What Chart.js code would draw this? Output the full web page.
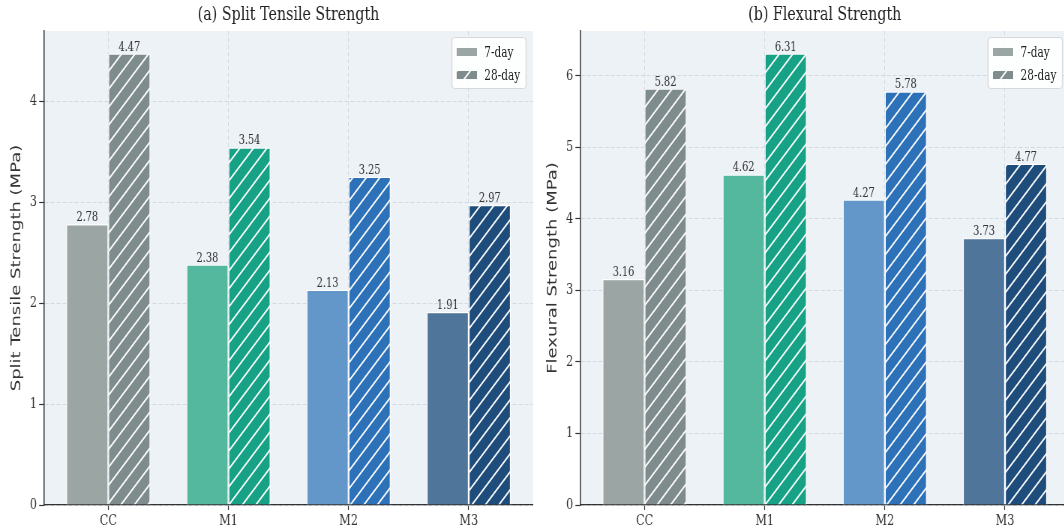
<!DOCTYPE html>
<html lang="en">
<head>
<meta charset="UTF-8" />
<title>Split Tensile and Flexural Strength</title>
<script src="https://cdn.jsdelivr.net/npm/chart.js"></script>
<style>
  body { margin: 0; background: #fff; overflow: hidden; width: 1064px; height: 532px; }
  /* figure is laid out wide, then squeezed horizontally */
  .stage { position: absolute; left: 0; top: 0; width: 1419px; height: 532px; transform: scaleX(0.75); transform-origin: 0 0; }
  .panel { position: absolute; top: 0; width: 769px; height: 532px; }
  .panel > canvas { position: absolute; left: 0; top: 0; width: 769px; height: 532px; }
  .legend { position: absolute; top: 37px; background: rgba(255,255,255,0.88); border: 1px solid #d4d4d4; border-radius: 4px;
            padding: 2px 8px 2px 6px; font: 14px "DejaVu Serif", serif; color: #222; }
  .legend .item { display: flex; align-items: center; height: 23px; }
  .legend canvas { margin-right: 10px; }
</style>
</head>
<body>
<div class="stage">
  <div class="panel" id="panelA" style="left:0"><canvas id="chartA" width="769" height="532"></canvas></div>
  <div class="panel" id="panelB" style="left:715px"><canvas id="chartB" width="769" height="532"></canvas></div>
</div>
<script>
const categories = ['CC', 'M1', 'M2', 'M3'];
const seriesLabels = ['7-day', '28-day'];

const tensile7 = [2.78, 2.38, 2.13, 1.91];
const tensile28 = [4.47, 3.54, 3.25, 2.97];
const flexural7 = [3.16, 4.62, 4.27, 3.73];
const flexural28 = [5.82, 6.31, 5.78, 4.77];

const colors7 = ['#9aa5a4', '#54b89f', '#6397c9', '#50759a'];
const colors28 = ['#7f8c8d', '#17a286', '#2d72b8', '#1f4d7b'];

// diagonal white hatch over a solid fill
function hatch(color) {
  const s = 18;
  const tile = document.createElement('canvas');
  tile.width = s; tile.height = s;
  const g = tile.getContext('2d');
  g.fillStyle = color;
  g.fillRect(0, 0, s, s);
  g.strokeStyle = '#fff';
  g.lineWidth = 1.8;
  g.beginPath();
  g.moveTo(0, s); g.lineTo(s, 0);
  g.moveTo(-s / 2, s / 2); g.lineTo(s / 2, -s / 2);
  g.moveTo(s / 2, s * 1.5); g.lineTo(s * 1.5, s / 2);
  g.stroke();
  return g.createPattern(tile, 'repeat');
}

const plotBackground = {
  id: 'plotBackground',
  beforeDraw(chart) {
    const { ctx, chartArea: a } = chart;
    ctx.save();
    ctx.fillStyle = '#edf2f7';
    ctx.fillRect(a.left, a.top, a.right - a.left, a.bottom - a.top);
    ctx.restore();
  }
};

const valueLabels = {
  id: 'valueLabels',
  afterDatasetsDraw(chart) {
    const ctx = chart.ctx;
    ctx.save();
    ctx.font = '13px "DejaVu Serif"';
    ctx.fillStyle = '#333';
    ctx.textAlign = 'center';
    ctx.textBaseline = 'alphabetic';
    chart.data.datasets.forEach((ds, di) => {
      chart.getDatasetMeta(di).data.forEach((bar, i) => {
        ctx.fillText(ds.data[i].y.toFixed(2), bar.x, bar.y - 3);
      });
    });
    ctx.restore();
  }
};

function makeChart(canvasId, title, yTitle, v7, v28) {
  const yMax = Math.max(...v7, ...v28) * 1.05;
  const tickFont = { family: 'DejaVu Serif', size: 15 };
  return new Chart(document.getElementById(canvasId), {
    type: 'bar',
    data: {
      datasets: [
        {
          label: seriesLabels[0],
          data: v7.map((y, i) => ({ x: i, y })),
          backgroundColor: colors7,
          borderColor: '#fff',
          borderWidth: 1.2
        },
        {
          label: seriesLabels[1],
          data: v28.map((y, i) => ({ x: i, y })),
          backgroundColor: colors28.map(hatch),
          borderColor: '#fff',
          borderWidth: 1.2
        }
      ]
    },
    options: {
      responsive: false,
      animation: false,
      devicePixelRatio: 1,
      layout: { padding: { left: 0, right: 58.3, top: 0, bottom: 0 } },
      datasets: { bar: { categoryPercentage: 0.7, barPercentage: 1.0 } },
      plugins: {
        legend: { display: false },
        tooltip: { enabled: false },
        title: {
          display: true,
          fullSize: false,
          text: title,
          color: '#222',
          font: { family: 'DejaVu Serif', size: 19, weight: 'normal' },
          padding: { top: 4, bottom: 4.2 }
        }
      },
      scales: {
        x: {
          type: 'linear',
          offset: false,
          min: -0.535,
          max: categories.length - 1 + 0.535,
          afterBuildTicks: s => { s.ticks = categories.map((c, i) => ({ value: i })); },
          afterFit: s => { s.height = 27; },
          ticks: {
            callback: v => categories[v],
            font: tickFont, color: '#333', padding: 2,
            autoSkip: false, maxRotation: 0
          },
          grid: { offset: false, color: '#d3d9e0', tickColor: '#333', tickLength: 5, tickWidth: 1.2 },
          border: { color: '#333', width: 1.3, dash: [4, 3] }
        },
        y: {
          min: 0,
          max: yMax,
          afterFit: s => { s.width = 58.7; },
          ticks: { stepSize: 1, includeBounds: false, font: tickFont, color: '#333', padding: 3 },
          grid: { color: '#d3d9e0', tickColor: '#333', tickLength: 6.5, tickWidth: 1.2 },
          border: { color: '#333', width: 1.5, dash: [5, 3] },
          title: {
            display: true,
            text: yTitle,
            color: '#333',
            font: { family: 'DejaVu Sans', size: 18 },
            padding: { top: 12, bottom: 0 }
          }
        }
      }
    },
    plugins: [plotBackground, valueLabels]
  });
}

function addLegend(panelId, chart) {
  const panel = document.getElementById(panelId);
  const box = document.createElement('div');
  box.className = 'legend';
  seriesLabels.forEach((label, k) => {
    const row = document.createElement('div');
    row.className = 'item';
    const sw = document.createElement('canvas');
    sw.width = 27; sw.height = 8;
    const g = sw.getContext('2d');
    g.fillStyle = k === 0 ? colors7[0] : hatch(colors28[0]);
    g.fillRect(0, 0, 27, 8);
    const txt = document.createElement('span');
    txt.textContent = label;
    row.appendChild(sw);
    row.appendChild(txt);
    box.appendChild(row);
  });
  panel.appendChild(box);
  box.style.left = (chart.chartArea.right - 8 - box.offsetWidth) + 'px';
}

const chartA = makeChart('chartA', '(a) Split Tensile Strength', 'Split Tensile Strength (MPa)', tensile7, tensile28);
const chartB = makeChart('chartB', '(b) Flexural Strength', 'Flexural Strength (MPa)', flexural7, flexural28);
addLegend('panelA', chartA);
addLegend('panelB', chartB);
</script>
</body>
</html>
